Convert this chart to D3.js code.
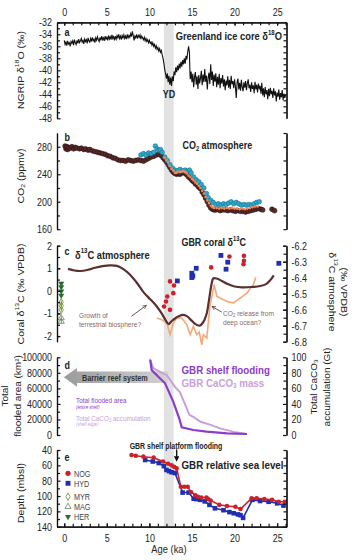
<!DOCTYPE html>
<html>
<head>
<meta charset="utf-8">
<script src="https://cdn.jsdelivr.net/npm/d3@7"></script>
<style>
  body { margin: 0; background: #fff; }
  svg { display: block; }
</style>
</head>
<body>
<svg id="chart" width="354" height="560"></svg>
<script>
// ---- data (age in ka) ----
const AGE_LABELS = [0, 5, 10, 15, 20, 25]
const YD_BAND = [11.7, 12.85]

// a: NGRIP d18O
const ngrip = [
  [0.0,-35.0],[0.1,-35.7],[0.2,-35.3],[0.3,-35.9],[0.4,-35.1],[0.5,-35.6],[0.6,-35.4],[0.7,-36.0],[0.8,-35.2],[0.9,-35.5],
  [1.0,-35.1],[1.1,-35.8],[1.2,-34.9],[1.3,-35.4],[1.4,-35.7],[1.5,-35.0],[1.6,-35.5],[1.7,-34.8],[1.8,-35.4],[1.9,-35.1],
  [2.0,-34.7],[2.1,-35.3],[2.2,-35.0],[2.3,-35.6],[2.4,-34.8],[2.5,-35.2],[2.6,-34.9],[2.7,-35.5],[2.8,-34.6],[2.9,-35.1],
  [3.0,-35.3],[3.1,-34.7],[3.2,-35.2],[3.3,-34.5],[3.4,-35.1],[3.5,-34.8],[3.6,-35.4],[3.7,-34.6],[3.8,-35.0],[3.9,-34.4],
  [4.0,-34.9],[4.1,-35.2],[4.2,-34.5],[4.3,-35.0],[4.4,-34.3],[4.5,-34.9],[4.6,-34.6],[4.7,-35.1],[4.8,-34.3],[4.9,-34.8],
  [5.0,-34.5],[5.1,-35.0],[5.2,-34.2],[5.3,-34.8],[5.4,-34.4],[5.5,-34.9],[5.6,-34.1],[5.7,-34.7],[5.8,-34.4],[5.9,-35.0],
  [6.0,-34.3],[6.1,-34.8],[6.2,-34.2],[6.3,-34.6],[6.4,-34.0],[6.5,-34.7],[6.6,-34.3],[6.7,-34.9],[6.8,-34.2],[6.9,-34.6],
  [7.0,-34.1],[7.1,-34.7],[7.2,-34.3],[7.3,-34.8],[7.4,-34.0],[7.5,-34.6],[7.6,-34.2],[7.7,-34.5],[7.8,-33.9],[7.9,-34.4],
  [8.0,-33.5],[8.1,-34.2],[8.2,-35.0],[8.3,-34.3],[8.4,-34.6],[8.5,-34.0],[8.6,-34.7],[8.7,-34.2],[8.8,-34.5],[8.9,-34.1],
  [9.0,-34.8],[9.1,-34.3],[9.2,-34.6],[9.3,-34.9],[9.4,-34.5],[9.5,-35.1],[9.6,-34.7],[9.7,-35.2],[9.8,-34.9],[9.9,-35.4],
  [10.0,-35.0],[10.1,-35.5],[10.2,-35.3],[10.3,-35.8],[10.4,-35.4],[10.5,-36.0],[10.6,-35.7],[10.7,-36.3],[10.8,-35.9],[10.9,-36.5],
  [11.0,-36.2],[11.1,-36.8],[11.2,-36.4],[11.3,-37.0],[11.4,-36.7],[11.5,-37.4],[11.6,-38.0],[11.7,-38.8],[11.8,-39.9],[11.9,-40.6],
  [12.0,-41.4],[12.1,-40.5],[12.2,-42.0],[12.3,-40.9],[12.4,-42.4],[12.5,-41.2],[12.6,-42.6],[12.7,-41.0],[12.8,-41.8],[12.9,-40.2],
  [13.0,-40.8],[13.1,-39.5],[13.2,-40.3],[13.3,-39.2],[13.4,-40.0],[13.5,-38.9],[13.6,-39.7],[13.7,-38.6],[13.8,-39.4],[13.9,-38.3],
  [14.0,-39.0],[14.1,-38.0],[14.2,-38.9],[14.3,-37.6],[14.4,-38.2],[14.5,-36.9],[14.6,-36.0],[14.7,-37.0],[14.75,-40.0],[14.8,-41.5],
  [14.9,-40.2],[15.0,-42.0],[15.1,-40.6],[15.2,-42.8],[15.3,-41.1],[15.4,-40.3],[15.5,-42.4],[15.6,-41.0],[15.7,-43.1],[15.8,-40.8],
  [15.9,-42.2],[16.0,-41.3],[16.1,-40.1],[16.2,-42.5],[16.3,-40.7],[16.4,-42.0],[16.5,-39.8],[16.6,-41.9],[16.7,-40.9],[16.8,-43.2],
  [16.9,-41.2],[17.0,-40.4],[17.1,-42.3],[17.2,-39.0],[17.3,-41.6],[17.4,-40.2],[17.5,-42.6],[17.6,-40.7],[17.7,-41.9],[17.8,-40.5],
  [17.9,-42.8],[18.0,-41.1],[18.1,-42.4],[18.2,-40.6],[18.3,-43.0],[18.4,-41.3],[18.5,-42.2],[18.6,-40.8],[18.7,-42.7],[18.8,-41.5],
  [18.9,-43.3],[19.0,-41.7],[19.1,-42.5],[19.2,-41.0],[19.3,-42.9],[19.4,-41.6],[19.5,-43.1],[19.6,-40.9],[19.7,-42.3],[19.8,-41.8],
  [19.9,-43.0],[20.0,-41.5],[20.1,-42.7],[20.2,-44.6],[20.3,-42.0],[20.4,-41.4],[20.5,-43.2],[20.6,-42.1],[20.7,-43.4],[20.8,-41.6],
  [20.9,-42.8],[21.0,-43.5],[21.1,-42.0],[21.2,-42.9],[21.3,-41.8],[21.4,-43.3],[21.5,-42.2],[21.6,-41.5],[21.7,-43.0],[21.8,-42.4],
  [21.9,-43.6],[22.0,-42.0],[22.1,-43.1],[22.2,-42.5],[22.3,-43.8],[22.4,-41.9],[22.5,-43.2],[22.6,-42.4],[22.7,-43.7],[22.8,-42.2],
  [22.9,-43.0],[23.0,-42.6],[23.1,-43.9],[23.2,-42.1],[23.3,-44.2],[23.4,-43.0],[23.5,-44.5],[23.6,-42.8],[23.7,-44.0],[23.8,-43.3],
  [23.9,-44.8],[24.0,-43.1],[24.1,-44.3],[24.2,-42.9],[24.3,-44.0],[24.4,-43.4],[24.5,-44.6],[24.6,-43.0],[24.7,-44.2],[24.8,-43.5],
  [24.9,-45.2],[25.0,-43.7],[25.1,-44.4],[25.2,-43.2],[25.3,-44.9],[25.4,-43.8],[25.5,-44.5],[25.6,-43.3],[25.7,-45.0],[25.8,-43.9],
  [25.9,-44.6],[26.0,-44.1]
]

// b: CO2 records (ppmv)
const co2Dark = [
  [0.1,281],[0.2,277],[0.3,280],[0.4,276],[0.5,279],[0.7,278],[0.9,280],[1.1,277],[1.3,279],[1.5,278],[1.8,277],[2.0,278],
  [2.3,276],[2.5,277],[2.8,275],[3.0,276],[3.3,274],[3.6,273],[3.9,272],[4.2,271],[4.5,270],[4.8,269],[5.1,267],[5.4,266],
  [5.7,264],[6.0,263],[6.3,261],[6.6,260],[6.9,260],[7.2,259],[7.5,261],[7.8,260],[8.1,259],[8.4,260],[8.7,261],[9.0,260],
  [9.3,259],[9.6,261],[9.9,263],[10.2,265],[10.5,266],[10.8,268],[11.1,269],[11.4,267],[11.6,264],[11.8,261],[12.0,258],
  [12.2,254],[12.4,250],[12.6,246],[12.8,243],[13.0,241],[13.2,240],[13.4,241],[13.6,240],[13.8,242],[14.0,243],[14.2,241],
  [14.4,239],[14.6,236],[14.8,234],[15.0,231],[15.2,229],[15.4,226],[15.6,224],[15.8,221],[16.0,219],[16.2,214],[16.4,210],
  [16.6,205],[16.8,200],[17.0,195],[17.2,191],[17.4,189],[17.6,188],[17.8,188],[18.0,189],[18.3,187],[18.6,188],[18.9,188],
  [19.2,187],[19.5,188],[19.8,187],[20.1,186],[20.4,187],[20.7,186],[21.0,186],[21.3,185],[21.6,186],[21.9,187],[22.2,188],
  [22.5,189],[22.8,190],[23.1,189],[23.3,188],[24.4,189],[24.7,187]
]
const co2Cyan = [
  [9.0,268],[9.3,270],[9.6,268],[9.9,271],[10.2,270],[10.5,272],[10.7,281],[10.9,277],[11.1,275],[11.3,276],[11.5,272],
  [11.8,265],[12.1,260],[12.4,254],[12.7,249],[13.0,246],[13.3,245],[13.6,247],[13.9,245],[14.2,246],[14.4,244],[14.7,246],
  [14.9,242],[15.2,236],[15.5,232],[15.8,229],[16.1,225],[16.4,220],[16.7,212],[16.9,206],[17.2,202],[17.5,199],[17.8,196],
  [18.1,197],[18.4,195],[18.7,197],[19.0,196],[19.3,198],[19.6,200],[19.9,197],[20.2,199],[20.5,197],[20.8,195],[21.1,196],
  [21.4,195],[21.7,196],[22.0,195],[22.3,197],[22.6,199],[22.9,200]
]
const co2Orange = [
  [11.8,264],[12.0,261],[12.2,257],[12.4,252],[12.6,248],[12.8,245],[13.0,242],[13.2,242],[13.4,244],[13.6,243],[13.8,244],
  [14.0,245],[14.2,243],[14.4,241],[14.6,238],[14.8,236],[15.0,233],[15.2,231],[15.4,228],[15.6,226],[15.8,223],[16.0,220],
  [16.2,216],[16.4,212],[16.6,207],[16.8,202],[17.0,198],[17.2,194],[17.4,192],[17.6,191],[17.9,191],[18.2,190],[18.5,191],
  [18.8,190],[19.1,191],[19.4,190],[19.7,191],[20.0,190],[20.3,190],[20.6,189],[20.9,190],[21.2,189],[21.5,190],[21.8,191],
  [22.1,192],[22.4,193],[22.7,193]
]

// c: d13C (atmosphere on right axis, corals on left axis)
const atmD13C = [
  [0.45,-6.345],[1.2,-6.355],[1.9,-6.358],[2.8,-6.35],[3.6,-6.338],[4.5,-6.328],[5.4,-6.323],[6.2,-6.326],[6.9,-6.345],
  [7.7,-6.38],[8.5,-6.43],[9.3,-6.49],[10.1,-6.535],[10.8,-6.575],[11.4,-6.62],[11.9,-6.665],[12.25,-6.69],[12.6,-6.672],
  [13.0,-6.655],[13.5,-6.64],[13.9,-6.632],[14.4,-6.64],[14.9,-6.665],[15.4,-6.69],[15.9,-6.7],[16.3,-6.68],[16.7,-6.63],
  [17.0,-6.54],[17.3,-6.44],[17.5,-6.405],[17.9,-6.405],[18.5,-6.42],[19.2,-6.44],[20.0,-6.455],[20.9,-6.46],[22.0,-6.458],
  [23.0,-6.452],[23.7,-6.44],[24.2,-6.415],[24.6,-6.385]
]
const atmD13CB = [
  [10.9,-6.652],[11.45,-6.663],[12.04,-6.683],[12.42,-6.756],[12.81,-6.683],[13.2,-6.652],[13.8,-6.652],[14.39,-6.694],
  [14.78,-6.756],[15.16,-6.704],[15.56,-6.756],[15.85,-6.74],[16.15,-6.819],[16.34,-6.756],[16.74,-6.777],[16.93,-6.673],
  [17.13,-6.569],[17.45,-6.485],[17.6,-6.444],[17.92,-6.516],[18.3,-6.527],[19.1,-6.548],[19.87,-6.558],[20.66,-6.527],
  [21.45,-6.496],[22.2,-6.444],[22.5,-6.398]
]
const coralNOG = [
  [12.42,0.42],[12.89,0.24],[12.81,-0.10],[12.1,-0.25],[11.95,-0.47],[11.72,-0.69],[12.42,-0.84],
  [17.25,1.04],[19.4,1.52],[21.1,1.55],[21.1,1.33],[21.05,1.18]
]
const coralHYD = [
  [13.28,0.44],[14.98,0.78],[15.1,0.66],[14.98,0.59],[15.5,1.0],[18.4,1.57],[19.2,1.27],[19.0,0.96],[25.2,1.22]
]
const MODERN_AGE = -0.35
const coralHER = [0.33, 0.17, -0.02, -0.2]
const coralMYR = [-0.5, -0.66, -0.84]
const coralMAG = [-1.2, -1.36]

// d: shelf flooding (km2, left) and CaCO3 mass (Gt, right)
const floodedArea = [
  [10.1,96500],[10.27,83500],[11.05,75000],[11.84,66500],[12.8,43000],[13.5,21500],[13.8,10000],
  [15.16,6400],[16.74,4250],[19.1,2200],[21.45,1300]
]
const caco3Mass = [
  [10.05,98],[10.45,86],[11.3,81],[12.05,77],[13.0,62],[13.6,55],[14.2,39],[14.7,26],[15.2,23],
  [16.0,17],[17.2,13],[18.3,8.5],[19.9,4],[21.45,1.3]
]

// e: relative sea level (mbsl)
const seaNOG = [
  [7.9,46.5],[8.4,47.4],[9.3,48.7],[10.5,50],[11.6,55],[12.2,58],[12.6,60],[12.9,62],[13.2,64],[13.7,88],[14.1,88],
  [14.5,88],[14.9,95],[15.4,99],[15.7,101],[16.1,102],[16.7,102],[16.9,104],[17.2,106],[18.2,111.5],[19.1,113],
  [20.1,114],[20.7,117],[22.0,103],[22.6,103],[23.5,104],[24.4,105],[25.2,107.5],[25.9,107.5]
]
const seaHYD = [
  [9.5,53],[10.4,55],[11.1,57],[11.7,61],[12.0,66],[12.3,67.5],[12.6,69],[13.0,70],[13.9,95.5],[14.6,95.5],
  [15.2,103.5],[15.5,104],[15.95,105],[16.5,107],[17.05,111.5],[17.7,116],[18.7,118.5],[19.4,121],[19.9,122.5],
  [20.4,124],[20.7,125],[21.0,128.5],[22.1,105],[23.0,106.5],[24.0,107.5],[25.0,109.5],[25.75,112.5]
]
const LEGEND_SITES = ["NOG", "HYD", "MYR", "MAG", "HER"]

// ---- layout ----
const SX = 0.85 // glyphs in the reference are squeezed horizontally
const FONT = "'Liberation Sans', Arial, Helvetica, sans-serif"
const X0 = 57, X1 = 286.5

const svg = d3.select("#chart").attr("font-family", FONT)
const x = d3.scaleLinear().domain([-0.85, 26.1]).range([X0, X1])

const yA = d3.scaleLinear().domain([-32, -48]).range([22.3, 118.3])
const yB = d3.scaleLinear().domain([300, 160]).range([133, 229.2])
const yCl = d3.scaleLinear().domain([2, -2.25]).range([245.7, 341.7])
const yCr = d3.scaleLinear().domain([-6.2, -6.8]).range([245.7, 341.7])
const yD = d3.scaleLinear().domain([100000, 0]).range([357.3, 435])
const yDr = d3.scaleLinear().domain([100, 0]).range([357.3, 435])
const yE = d3.scaleLinear().domain([40, 140]).range([450, 526.7])

const RED = "#c8232b", BLUE = "#1f2fb0", PURPLE = "#8c3cc8", LILAC = "#c9a0da"

// rich text: parts like [["CO"], ["2", "sub"], [" atmosphere"]]
function label(px, py, parts, o = {}) {
  const size = o.size || 10
  const rot = o.rotate || 0
  const sc = rot ? `scale(1,${SX})` : `scale(${SX},1)`
  const t = svg.append("text")
    .attr("transform", `translate(${px},${py}) rotate(${rot}) ${sc}`)
    .attr("text-anchor", o.anchor || "start")
    .attr("dominant-baseline", "central")
    .attr("font-size", size)
    .attr("font-weight", o.weight || "normal")
    .attr("font-style", o.italic ? "italic" : "normal")
    .attr("fill", o.color || "#222")
  let shift = 0
  parts.forEach(([s, k]) => {
    const target = k === "sup" ? -0.4 : k === "sub" ? 0.25 : 0
    const sp = t.append("tspan").text(s)
    const dy = (target - shift) * size
    if (dy) sp.attr("dy", dy)
    if (k) sp.attr("font-size", size * 0.65)
    shift = target
  })
  return t
}

function styleAxis(g) {
  g.selectAll("path, line").attr("stroke", "#111").attr("stroke-width", 1.2)
  g.selectAll("text")
    .attr("font-family", FONT).attr("font-size", 10.5).attr("fill", "#222")
    .attr("transform", `scale(${SX},1)`)
}

function vAxis(scale, side, minor, major, fmt) {
  const mk = side === "left" ? d3.axisLeft : d3.axisRight
  const g = svg.append("g").attr("transform", `translate(${side === "left" ? X0 : X1},0)`)
  g.append("g").call(mk(scale).tickValues(minor).tickSizeInner(-3).tickSizeOuter(0).tickFormat(""))
  g.append("g").call(mk(scale).tickValues(major).tickSizeInner(-3.5).tickSizeOuter(0)
    .tickPadding(6).tickFormat(fmt || (d => String(d))))
  g.selectAll(".domain").attr("fill", "none")
  styleAxis(g)
}

function hAxis(yPos, top) {
  const mk = top ? d3.axisTop : d3.axisBottom
  const g = svg.append("g").attr("transform", `translate(0,${yPos})`)
  g.append("g").call(mk(x).tickValues(d3.range(0, 27)).tickSizeInner(-3).tickSizeOuter(0).tickFormat(""))
  g.append("g").call(mk(x).tickValues(AGE_LABELS).tickSizeInner(-3.5).tickSizeOuter(0)
    .tickPadding(top ? 6.5 : 8).tickFormat(d => String(d)))
  styleAxis(g)
}

// Younger Dryas band through all panels
svg.append("rect")
  .attr("x", x(YD_BAND[0])).attr("width", x(YD_BAND[1]) - x(YD_BAND[0]))
  .attr("y", 22.3).attr("height", 526.7 - 22.3)
  .attr("fill", "#e2e2e2")

// ---------- a ----------
svg.append("path").datum(ngrip)
  .attr("d", d3.line().x(d => x(d[0])).y(d => yA(d[1])))
  .attr("fill", "none").attr("stroke", "#111").attr("stroke-width", 1.1)
hAxis(yA.range()[0], true)
vAxis(yA, "left", d3.range(-33, -48, -2), d3.range(-32, -49, -2))
vAxis(yA, "right", d3.range(-33, -48, -1), [], () => "")
label(64.5, 32, [["a"]], { size: 10.5, weight: "bold" })
label(282, 36, [["Greenland ice core δ"], ["18", "sup"], ["O"]], { size: 11, weight: "bold", anchor: "end" })
label(x(12.3), 94, [["YD"]], { size: 10.5, weight: "bold", anchor: "middle" })
label(20, 70, [["NGRIP δ"], ["18", "sup"], ["O (‰)"]], { size: 10.5, rotate: -90, anchor: "middle" })

// ---------- b ----------
const dots = (data, y, r, fill, stroke) => svg.append("g").selectAll("circle").data(data).join("circle")
  .attr("cx", d => x(d[0])).attr("cy", d => y(d[1])).attr("r", r)
  .attr("fill", fill).attr("stroke", stroke).attr("stroke-width", 0.6)
dots(co2Dark, yB, 2.4, "#5a2a2a", "#2a0f0f")
dots(co2Cyan, yB, 2.3, "#30a8cc", "#15708f")
dots(co2Orange, yB, 1.3, "#f08a5a", "none")
vAxis(yB, "left", d3.range(180, 300, 40), d3.range(160, 301, 40))
vAxis(yB, "right", d3.range(160, 301, 20), [], () => "")
label(64.5, 137, [["b"]], { size: 10.5, weight: "bold" })
label(182.5, 145, [["CO"], ["2", "sub"], [" atmosphere"]], { size: 10.5, weight: "bold" })
label(20, 176, [["CO"], ["2", "sub"], [" (ppmv)"]], { size: 10.5, rotate: -90, anchor: "middle" })

// ---------- c ----------
const atmLine = d3.line().curve(d3.curveCatmullRom).x(d => x(d[0])).y(d => yCr(d[1]))
svg.append("path").datum(atmD13CB).attr("d", d3.line().x(d => x(d[0])).y(d => yCr(d[1])))
  .attr("fill", "none").attr("stroke", "#f3a978").attr("stroke-width", 1.6)
svg.append("path").datum(atmD13C).attr("d", atmLine)
  .attr("fill", "none").attr("stroke", "#5b3030").attr("stroke-width", 2.2)

svg.append("g").selectAll("circle").data(coralNOG).join("circle")
  .attr("cx", d => x(d[0])).attr("cy", d => yCl(d[1])).attr("r", 2.3).attr("fill", RED)
svg.append("g").selectAll("rect").data(coralHYD).join("rect")
  .attr("x", d => x(d[0]) - 2.4).attr("y", d => yCl(d[1]) - 2.4).attr("width", 4.8).attr("height", 4.8).attr("fill", BLUE)

const modern = [
  ...coralHER.map(v => ({ v, s: "HER" })),
  ...coralMYR.map(v => ({ v, s: "MYR" })),
  ...coralMAG.map(v => ({ v, s: "MAG" }))
]
const siteSym = {
  NOG: { type: d3.symbolCircle, fill: RED, stroke: "none", rot: 0, size: 22 },
  HYD: { type: d3.symbolSquare, fill: BLUE, stroke: "none", rot: 0, size: 24 },
  MYR: { type: d3.symbolDiamond, fill: "none", stroke: "#6b8e23", rot: 0, size: 16 },
  MAG: { type: d3.symbolTriangle, fill: "none", stroke: "#6f806a", rot: 0, size: 16 },
  HER: { type: d3.symbolTriangle, fill: "#2e6b34", stroke: "none", rot: 180, size: 16 }
}
const gm = svg.append("g")
gm.selectAll("line").data(modern).join("line")
  .attr("x1", x(MODERN_AGE)).attr("x2", x(MODERN_AGE))
  .attr("y1", d => yCl(d.v + 0.08)).attr("y2", d => yCl(d.v - 0.08))
  .attr("stroke", "#3d7a3d").attr("stroke-width", 0.8)
gm.selectAll("path").data(modern).join("path")
  .attr("transform", d => `translate(${x(MODERN_AGE)},${yCl(d.v)}) rotate(${siteSym[d.s].rot})`)
  .attr("d", d => d3.symbol(siteSym[d.s].type, siteSym[d.s].size)())
  .attr("fill", d => siteSym[d.s].fill).attr("stroke", d => siteSym[d.s].stroke).attr("stroke-width", 0.8)

vAxis(yCl, "left", d3.range(-2, 2.01, 0.5), [-2, -1, 0, 1, 2])
vAxis(yCr, "right", d3.range(-6.8, -6.19, 0.05), [-6.2, -6.3, -6.4, -6.5, -6.6, -6.7, -6.8], d => d.toFixed(1))

// annotations
svg.append("defs").append("marker").attr("id", "ah").attr("viewBox", "0 0 10 10")
  .attr("refX", 9).attr("refY", 5).attr("markerWidth", 5).attr("markerHeight", 5).attr("orient", "auto")
  .append("path").attr("d", "M1,1 L9,5 L1,9").attr("fill", "none").attr("stroke", "#5b3a3a").attr("stroke-width", 1.5)
const arrows = [[7.9, -1.12, 9.65, -0.64], [18.5, -0.94, 17.35, -0.69]]
svg.append("g").selectAll("line").data(arrows).join("line")
  .attr("x1", d => x(d[0])).attr("y1", d => yCl(d[1])).attr("x2", d => x(d[2])).attr("y2", d => yCl(d[3]))
  .attr("stroke", "#5b3a3a").attr("stroke-width", 0.9).attr("marker-end", "url(#ah)")
const NOTE = "#8a6868"
label(79, 315, [["Growth of"]], { size: 7.8, color: NOTE })
label(79, 323.5, [["terrestrial biosphere?"]], { size: 7.8, color: NOTE })
label(223, 313, [["CO"], ["2", "sub"], [" release from"]], { size: 7.8, color: NOTE })
label(223, 322, [["deep ocean?"]], { size: 7.8, color: NOTE })

label(64.5, 250.7, [["c"]], { size: 10.5, weight: "bold" })
label(75, 254.3, [["δ"], ["13", "sup"], ["C atmosphere"]], { size: 11, weight: "bold" })
label(181.5, 241.7, [["GBR coral δ"], ["13", "sup"], ["C"]], { size: 10.5, weight: "bold" })
label(20, 294, [["Coral δ"], ["13", "sup"], ["C (‰ VPDB)"]], { size: 10.5, rotate: -90, anchor: "middle" })
label(333, 292, [["δ"], ["13", "sup"], ["C atmosphere"]], { size: 10.5, rotate: 90, anchor: "middle" })
label(345, 292, [["(‰ VPDB)"]], { size: 10.5, rotate: 90, anchor: "middle" })

// ---------- d ----------
const grad = svg.select("defs").append("linearGradient").attr("id", "reef")
grad.append("stop").attr("offset", "0%").attr("stop-color", "#9a9a9a")
grad.append("stop").attr("offset", "100%").attr("stop-color", "#d4d4d4")
const reefArrow = [[x(-0.05), 377.3], [x(1.5), 368], [x(1.5), 371.5], [x(12.2), 371.5], [x(12.2), 383], [x(1.5), 383], [x(1.5), 386.7]]
svg.append("path").attr("d", d3.line()(reefArrow) + "Z").attr("fill", "url(#reef)")
label(82, 377.5, [["Barrier reef system"]], { size: 8.5, weight: "bold", color: "#333" })

svg.append("path").datum(caco3Mass).attr("d", d3.line().x(d => x(d[0])).y(d => yDr(d[1])))
  .attr("fill", "none").attr("stroke", LILAC).attr("stroke-width", 2)
svg.append("path").datum(floodedArea).attr("d", d3.line().x(d => x(d[0])).y(d => yD(d[1])))
  .attr("fill", "none").attr("stroke", PURPLE).attr("stroke-width", 2.2)

vAxis(yD, "left", d3.range(10000, 100000, 20000), d3.range(0, 100001, 20000))
vAxis(yDr, "right", d3.range(10, 100, 20), d3.range(0, 101, 20))
label(64.5, 365, [["d"]], { size: 10.5, weight: "bold" })
label(181.5, 370, [["GBR shelf flooding"]], { size: 11.5, weight: "bold", color: PURPLE })
label(181.5, 382.3, [["GBR CaCO"], ["3", "sub"], [" mass"]], { size: 11.5, weight: "bold", color: LILAC })
label(76, 400, [["Total flooded area"]], { size: 7.5, color: PURPLE })
label(76, 406.5, [["(entire shelf)"]], { size: 5, italic: true, color: PURPLE })
label(76, 417.7, [["Total CaCO"], ["3", "sub"], [" accumulation"]], { size: 7.5, color: LILAC })
label(76, 424.2, [["(shelf edge)"]], { size: 5, italic: true, color: LILAC })
label(5, 396, [["Total"]], { size: 10, rotate: -90, anchor: "middle" })
label(18, 396, [["flooded area (km²)"]], { size: 10, rotate: -90, anchor: "middle" })
label(314, 387, [["Total CaCO"], ["3", "sub"]], { size: 10, rotate: -90, anchor: "middle" })
label(327, 387, [["accumulation (Gt)"]], { size: 10, rotate: -90, anchor: "middle" })

// ---------- e ----------
const seaLine = d3.line().x(d => x(d[0])).y(d => yE(d[1]))
svg.append("path").datum(seaHYD).attr("d", seaLine).attr("fill", "none").attr("stroke", BLUE).attr("stroke-width", 1.6)
svg.append("g").selectAll("rect").data(seaHYD).join("rect")
  .attr("x", d => x(d[0]) - 2.3).attr("y", d => yE(d[1]) - 2.3).attr("width", 4.6).attr("height", 4.6).attr("fill", BLUE)
svg.append("path").datum(seaNOG).attr("d", seaLine).attr("fill", "none").attr("stroke", RED).attr("stroke-width", 1.6)
svg.append("g").selectAll("circle").data(seaNOG).join("circle")
  .attr("cx", d => x(d[0])).attr("cy", d => yE(d[1])).attr("r", 2.3).attr("fill", RED)

hAxis(yE.range()[1], false)
vAxis(yE, "left", d3.range(50, 140, 20), d3.range(40, 141, 20))
vAxis(yE, "right", d3.range(40, 141, 10), [], () => "")

const lg = svg.append("g").selectAll("g").data(LEGEND_SITES).join("g")
  .attr("transform", (d, i) => `translate(68,${[473.3, 483.3, 496.7, 506.7, 516.7][i]})`)
lg.append("path")
  .attr("transform", d => `rotate(${siteSym[d].rot})`)
  .attr("d", d => d3.symbol(siteSym[d].type, siteSym[d].size)())
  .attr("fill", d => siteSym[d].fill).attr("stroke", d => siteSym[d].stroke).attr("stroke-width", 0.8)
lg.each(function (d) {
  const [tx, ty] = d3.select(this).attr("transform").match(/[\d.]+/g).map(Number)
  label(tx + 6, ty, [[d]], { size: 8.5, color: "#444" })
})

svg.append("line").attr("x1", x(13.2)).attr("x2", x(13.2)).attr("y1", 449.5).attr("y2", 459)
  .attr("stroke", "#111").attr("stroke-width", 1.4).attr("marker-end", "url(#ahk)")
svg.select("defs").append("marker").attr("id", "ahk").attr("viewBox", "0 0 10 10")
  .attr("refX", 5).attr("refY", 5).attr("markerWidth", 4).attr("markerHeight", 4).attr("orient", "auto")
  .append("path").attr("d", "M0,0 L10,5 L0,10 Z").attr("fill", "#111")
label(176, 445.5, [["GBR shelf platform flooding"]], { size: 8.2, weight: "bold", anchor: "middle" })
label(64.5, 456.3, [["e"]], { size: 10.5, weight: "bold" })
label(181.5, 465, [["GBR relative sea level"]], { size: 11.5, weight: "bold" })
label(20, 493, [["Depth (mbsl)"]], { size: 10.5, rotate: -90, anchor: "middle" })
label(x(12.3), 549, [["Age (ka)"]], { size: 11, anchor: "middle" })
</script>
</body>
</html>
